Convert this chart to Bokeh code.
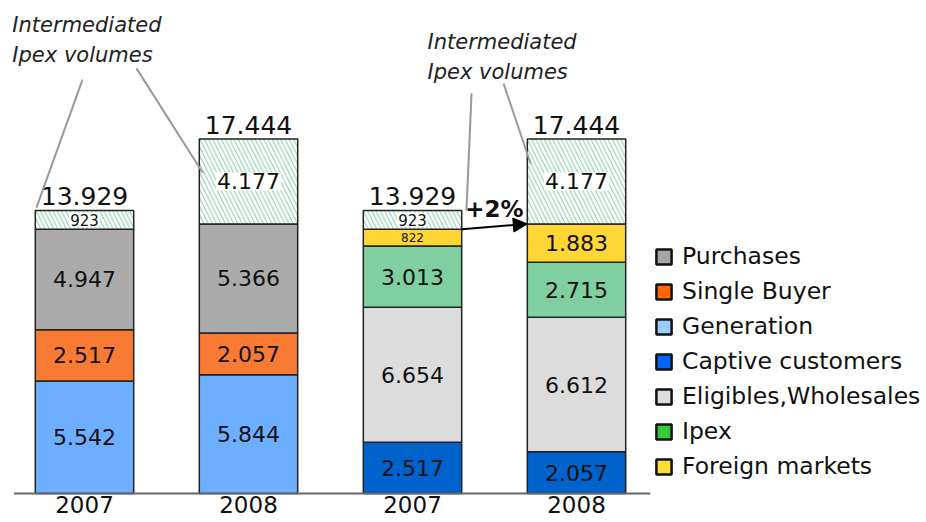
from bokeh.plotting import figure
from bokeh.models import ColumnDataSource, Range1d, Arrow, NormalHead, Legend, LegendItem
from bokeh.core.properties import value
from bokeh.embed import file_html
from bokeh.resources import INLINE

# ---------------- data ----------------
years = ["2007", "2008", "2007", "2008"]
bar_x = [0, 1, 2, 3]

generation = [5.542, 5.844]
single_buyer = [2.517, 2.057]
purchases = [4.947, 5.366]

captive = [2.517, 2.057]
eligibles = [6.654, 6.612]
ipex = [3.013, 2.715]
foreign = [0.822, 1.883]

intermediated = [0.923, 4.177, 0.923, 4.177]
totals = [13.929, 17.444, 13.929, 17.444]

annotation_text = "Intermediated\nIpex volumes"
growth_text = "+2%"

legend_names = ["Purchases", "Single Buyer", "Generation", "Captive customers",
                "Eligibles,Wholesales", "Ipex", "Foreign markets"]

# ---------------- styles ----------------
FONT = "DejaVu Sans"
BAR_COLORS = {
    "Purchases": "#ABABAB", "Single Buyer": "#F97B33", "Generation": "#6DAEFF",
    "Captive customers": "#0063CC", "Eligibles,Wholesales": "#DCDCDC",
    "Ipex": "#80CFA0", "Foreign markets": "#FFD633",
}
LEGEND_COLORS = {
    "Purchases": "#A6A6A6", "Single Buyer": "#FF6600", "Generation": "#99CCFF",
    "Captive customers": "#0066FF", "Eligibles,Wholesales": "#DDDDDD",
    "Ipex": "#33CC33", "Foreign markets": "#FFDD33",
}
BAR_W = 0.6
OUTLINE = "#222222"
NAN = float("nan")


def fmt(v):
    n = int(round(v * 1000))
    return f"{n:,}".replace(",", ".")


def label_size(v):
    if v < 0.9:
        return "12px"
    if v < 1.0:
        return "15px"
    return "22px"


p = figure(width=926, height=522, output_backend="svg", toolbar_location=None,
           x_range=Range1d(-0.5122, 5.1341), y_range=Range1d(-1.427, 24.262),
           x_axis_location=None, y_axis_location=None, min_border=0)
p.grid.visible = False
p.outline_line_color = None

# ---------------- stacked bars ----------------
supply_layers = [("Generation", generation), ("Single Buyer", single_buyer), ("Purchases", purchases)]
demand_layers = [("Captive customers", captive), ("Eligibles,Wholesales", eligibles),
                 ("Ipex", ipex), ("Foreign markets", foreign)]

base = [0.0] * len(bar_x)
lab_x, lab_y, lab_t, lab_s = [], [], [], []

for idxs, layers in (([0, 1], supply_layers), ([2, 3], demand_layers)):
    for name, vals in layers:
        xs = [bar_x[i] for i in idxs]
        bottoms = [base[i] for i in idxs]
        tops = [b + v for b, v in zip(bottoms, vals)]
        src = ColumnDataSource(dict(x=xs, bottom=bottoms, top=tops))
        p.vbar(x="x", bottom="bottom", top="top", width=BAR_W, source=src,
               fill_color=BAR_COLORS[name], line_color=OUTLINE, line_width=1.5)
        for i, b, v in zip(idxs, bottoms, vals):
            lab_x.append(bar_x[i]); lab_y.append(b + v / 2)
            lab_t.append(fmt(v)); lab_s.append(label_size(v))
            base[i] = b + v

# hatched intermediated volumes on top
h_bottom = list(base)
h_top = [b + v for b, v in zip(h_bottom, intermediated)]
hsrc = ColumnDataSource(dict(x=bar_x, bottom=h_bottom, top=h_top))
p.vbar(x="x", bottom="bottom", top="top", width=BAR_W, source=hsrc,
       fill_color="white", line_color=OUTLINE, line_width=1.5,
       hatch_pattern="left_diagonal_line", hatch_color="#8FD1AE",
       hatch_scale=8.5, hatch_weight=1.1)

lsrc = ColumnDataSource(dict(x=lab_x, y=lab_y, t=lab_t, s=lab_s))
p.text(x="x", y="y", text="t", source=lsrc, text_font=value(FONT),
       text_font_size="s", text_align="center", text_baseline="middle",
       text_color="#111111")

hl_src = ColumnDataSource(dict(x=bar_x, y=[(b + t) / 2 for b, t in zip(h_bottom, h_top)],
                               t=[fmt(v) for v in intermediated],
                               s=[label_size(v) for v in intermediated]))
p.text(x="x", y="y", text="t", source=hl_src, text_font=value(FONT),
       text_font_size="s", text_align="center", text_baseline="middle",
       text_color="#111111", background_fill_color="white", padding=1)

# totals
tsrc = ColumnDataSource(dict(x=bar_x, y=totals, t=[fmt(v) for v in totals]))
p.text(x="x", y="y", text="t", source=tsrc, text_font=value(FONT),
       text_font_size="25px", text_align="center", text_baseline="alphabetic",
       y_offset=-14, text_color="#111111")

# year labels
ysrc = ColumnDataSource(dict(x=bar_x, y=[0] * len(bar_x), t=years))
p.text(x="x", y="y", text="t", source=ysrc, text_font=value(FONT),
       text_font_size="23px", text_align="center", text_baseline="top",
       y_offset=2, text_color="#111111")

# baseline
p.segment(x0=[bar_x[0] - 0.43], y0=[0], x1=[bar_x[-1] + 0.45], y1=[0],
          line_color="#666666", line_width=2)

# annotation texts
p.text(x=[bar_x[0] - 0.44, bar_x[2] + 0.0915], y=[23.67, 22.79],
       text=[annotation_text, annotation_text], text_font=value(FONT),
       text_font_size="21px", text_font_style="italic", text_align="left",
       text_baseline="top", text_line_height=1.25, text_color="#222222")

# connector lines
p.segment(x0=[bar_x[0] - 0.012, bar_x[0] + 0.317, bar_x[2] + 0.36, bar_x[2] + 0.555],
          y0=[20.37, 20.92, 19.69, 20.18],
          x1=[bar_x[0] - 0.293, bar_x[1] - 0.28, bar_x[2] + 0.329, bar_x[3] - 0.28],
          y1=[totals[0] + 0.14, 15.80, totals[2], 16.24],
          line_color="#999999", line_width=2)

# growth arrow between demand bars, at the top of foreign markets
f_top3 = captive[0] + eligibles[0] + ipex[0] + foreign[0]
f_top4 = captive[1] + eligibles[1] + ipex[1] + foreign[1]
p.add_layout(Arrow(x_start=bar_x[2] + BAR_W / 2, y_start=f_top3,
                   x_end=bar_x[3] - BAR_W / 2, y_end=f_top4,
                   line_color="black", line_width=2,
                   end=NormalHead(size=14, fill_color="black", line_color="black")))
p.text(x=[(bar_x[2] + bar_x[3]) / 2], y=[f_top3], text=[growth_text],
       text_font=value(FONT), text_font_size="23px", text_font_style="bold",
       text_align="center", text_baseline="alphabetic", y_offset=-20,
       text_color="#111111")

# legend with its own swatch colours
items = []
for name in legend_names:
    r = p.vbar(x=[NAN], top=[NAN], width=BAR_W, fill_color=LEGEND_COLORS[name],
               line_color="#111111", line_width=2.5)
    items.append(LegendItem(label=name, renderers=[r]))
legend = Legend(items=items, location=(654, 41), orientation="vertical",
                glyph_width=19, glyph_height=19, label_height=30, spacing=5,
                label_standoff=9, padding=0, margin=0,
                label_text_font=FONT, label_text_font_size="23.5px",
                label_text_color="#111111", border_line_color=None,
                background_fill_alpha=0)
p.add_layout(legend)

open("out.html", "w").write(file_html(p, INLINE))
